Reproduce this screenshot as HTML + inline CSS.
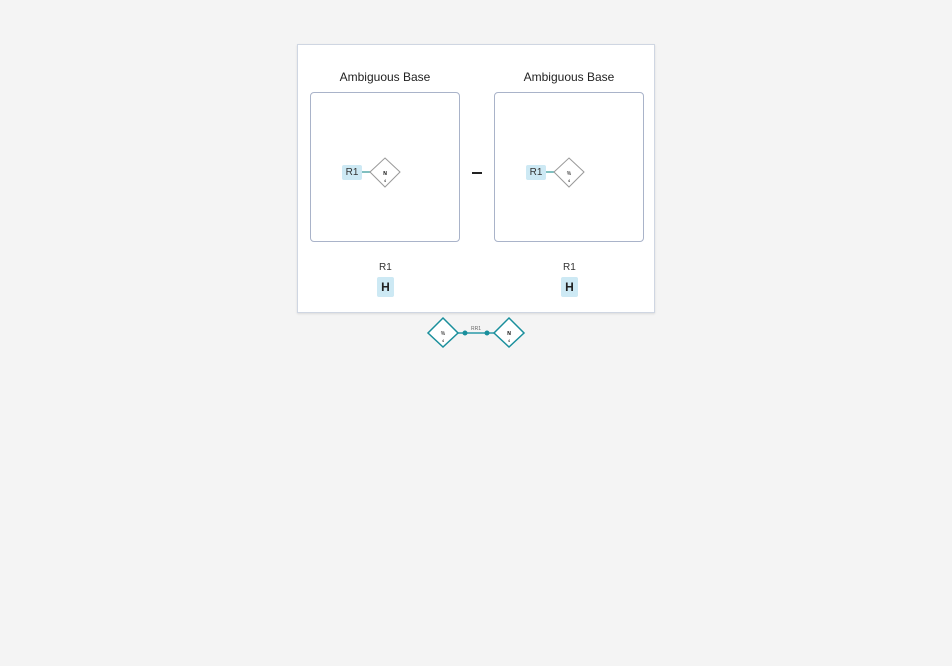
<!DOCTYPE html>
<html><head><style>
body{margin:0;width:952px;height:666px;background:#f4f4f4;font-family:"Liberation Sans",sans-serif;position:relative;overflow:hidden}
.abs{position:absolute}
.card{left:297px;top:44px;width:356px;height:267px;background:#fff;border:1px solid #cfd6e2;box-shadow:0 1px 2px rgba(0,0,0,.1)}
.title{font-size:12px;color:#222;width:150px;text-align:center}
.box{width:148px;height:148px;border:1px solid #a9b3c9;border-radius:4px;background:#fff}
.r1{font-size:10px;color:#333;background:#cde9f4;border-radius:2px;width:20px;height:15px;line-height:15px;text-align:center}
.H{font-size:12px;font-weight:bold;color:#222;background:#cde9f4;border-radius:2px;width:17px;height:20px;line-height:20px;text-align:center}
.small{font-size:10px;color:#333}
</style></head><body>
<div class="abs card"></div>
<div class="abs title" style="left:310px;top:70px">Ambiguous Base</div>
<div class="abs title" style="left:494px;top:70px">Ambiguous Base</div>
<div class="abs box" style="left:310px;top:92px"></div>
<div class="abs box" style="left:494px;top:92px"></div>
<div class="abs r1" style="left:342px;top:165px">R1</div>
<div class="abs r1" style="left:526px;top:165px">R1</div>
<div class="abs" style="left:472px;top:172px;width:10px;height:2px;background:#222"></div>
<svg class="abs" style="left:0;top:0" width="952" height="666">
<line x1="362" y1="172" x2="371" y2="172" stroke="#5aa" stroke-width="1.5"/>
<line x1="546" y1="172" x2="555" y2="172" stroke="#5aa" stroke-width="1.5"/>
<polygon points="385,158 400,172 385,187 370,172" fill="#fff" stroke="#999"/>
<polygon points="569,158 584,172 569,187 554,172" fill="#fff" stroke="#999"/>
<text x="385" y="175" font-size="5" text-anchor="middle" font-weight="bold">N</text>
<text x="569" y="175" font-size="5" text-anchor="middle">%</text>
<text x="385" y="182" font-size="4" text-anchor="middle">4</text>
<text x="569" y="182" font-size="4" text-anchor="middle">4</text>
<line x1="457" y1="333" x2="494" y2="333" stroke="#2a9aa8" stroke-width="1.5"/>
<circle cx="465" cy="333" r="2.5" fill="#1a8f9c"/>
<circle cx="487" cy="333" r="2.5" fill="#1a8f9c"/>
<polygon points="443,318 458,333 443,347 428,333" fill="#fff" stroke="#1a8f9c" stroke-width="1.5"/>
<polygon points="509,318 524,333 509,347 494,333" fill="#fff" stroke="#1a8f9c" stroke-width="1.5"/>
<text x="443" y="335" font-size="5" text-anchor="middle">%</text>
<text x="509" y="335" font-size="5" text-anchor="middle" font-weight="bold">N</text>
<text x="443" y="342" font-size="4" text-anchor="middle">4</text>
<text x="509" y="342" font-size="4" text-anchor="middle">4</text>
<text x="476" y="330" font-size="5" fill="#666" text-anchor="middle">RR1</text>
</svg>
<div class="abs small" style="left:379px;top:262px">R1</div>
<div class="abs small" style="left:563px;top:262px">R1</div>
<div class="abs H" style="left:377px;top:277px">H</div>
<div class="abs H" style="left:561px;top:277px">H</div>
</body></html>
